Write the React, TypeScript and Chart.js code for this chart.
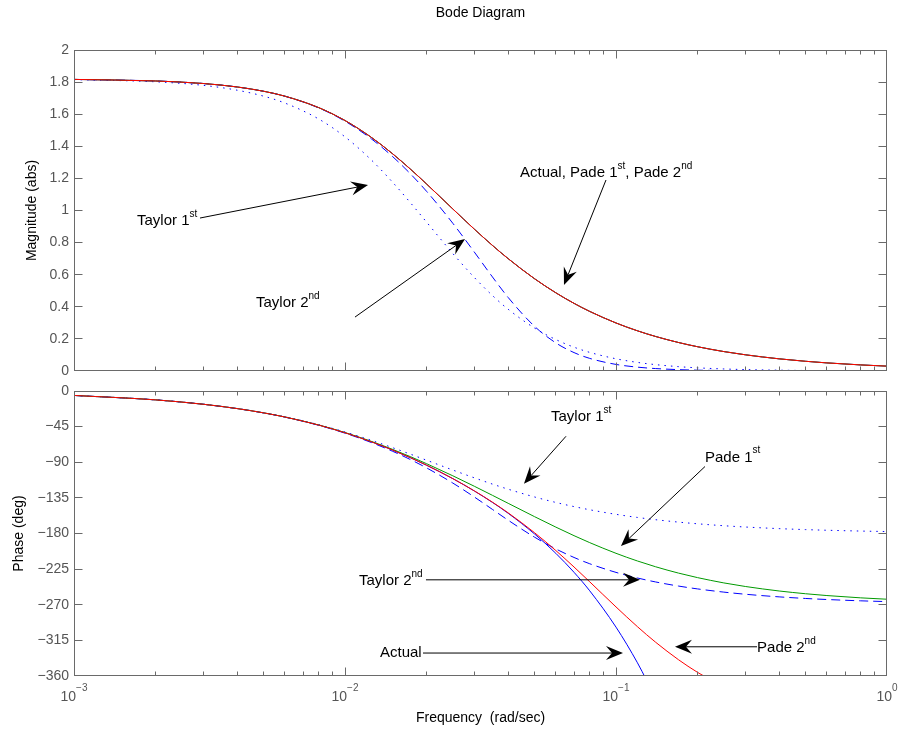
import { useEffect, useRef } from "react";
import { Chart, registerables } from "chart.js";

Chart.register(...registerables);

// Frequency grid (rad/sec)
const FREQ = [
  0.001, 0.002, 0.003, 0.004, 0.005, 0.006, 0.008, 0.01, 0.0125, 0.015, 0.0175, 0.02, 0.025, 0.03, 0.035, 0.04,
  0.05, 0.06, 0.07, 0.08, 0.1, 0.12, 0.14, 0.17, 0.2, 0.25, 0.3, 0.4, 0.5, 0.6, 0.8, 1.0,
];

// Magnitude (abs). Both Pade forms are all-pass, so they share the actual curve.
const MAG_ACTUAL = [
  1.8167, 1.807, 1.7912, 1.7697, 1.7432, 1.7124, 1.6408, 1.5606, 1.456, 1.3528, 1.2552, 1.1651, 1.0096, 0.8839, 0.7825, 0.7,
  0.5755, 0.4871, 0.4215, 0.3712, 0.2992, 0.2504, 0.2151, 0.1776, 0.1511, 0.1211, 0.101, 0.0758, 0.0606, 0.0505, 0.0379, 0.0303,
];
const MAG_TAYLOR1 = [
  1.8154, 1.8018, 1.7797, 1.7496, 1.7126, 1.6696, 1.5699, 1.4588, 1.3152, 1.1753, 1.0452, 0.9276, 0.7319, 0.5829, 0.4702, 0.3847,
  0.268, 0.1957, 0.1483, 0.116, 0.0761, 0.0536, 0.0397, 0.0272, 0.0197, 0.0127, 0.0088, 0.005, 0.0032, 0.0022, 0.0012, 0.0008,
];
const MAG_TAYLOR2 = [
  1.8167, 1.807, 1.7912, 1.7696, 1.7429, 1.7118, 1.639, 1.5565, 1.4468, 1.3353, 1.2256, 1.1194, 0.9202, 0.7412, 0.5861, 0.4581,
  0.2789, 0.1749, 0.1147, 0.0785, 0.041, 0.024, 0.0152, 0.0085, 0.0052, 0.0027, 0.0016, 0.0007, 0.0003, 0.0002, 0.0001, 0.0,
];

// Phase (deg); the shorter series run off the bottom of the axes.
const PHASE_ACTUAL = [
  -5.61, -11.2, -16.74, -22.21, -27.59, -32.86, -43.06, -52.74, -64.09, -74.65, -84.5, -93.74, -110.74, -126.26, -140.74, -154.47,
  -180.43, -205.11, -229.02, -252.41, -298.26, -343.36, -388.03,
];
const PHASE_TAYLOR1 = [
  -5.61, -11.19, -16.71, -22.14, -27.46, -32.64, -42.55, -51.77, -62.28, -71.67, -80.02, -87.43, -99.84, -109.69, -117.6, -124.04,
  -133.81, -140.79, -146.01, -150.02, -155.79, -159.72, -162.57, -165.6, -167.74, -170.18, -171.81, -173.85, -175.08, -175.9, -176.92, -177.54,
];
const PHASE_TAYLOR2 = [
  -5.61, -11.2, -16.75, -22.24, -27.65, -32.97, -43.32, -53.24, -65.03, -76.22, -86.89, -97.1, -116.3, -133.87, -149.57, -163.21,
  -184.53, -199.52, -210.26, -218.22, -229.12, -236.21, -241.19, -246.39, -249.99, -254.04, -256.72, -260.05, -262.05, -263.38, -265.04, -266.03,
];
const PHASE_PADE1 = [
  -5.61, -11.2, -16.73, -22.19, -27.55, -32.81, -42.93, -52.48, -63.59, -73.8, -83.18, -91.81, -107.13, -120.31, -131.79, -141.85,
  -158.63, -171.96, -182.73, -191.55, -205.02, -214.73, -222.01, -230.0, -235.75, -242.41, -246.92, -252.62, -256.07, -258.38, -261.28, -263.02,
];
const PHASE_PADE2 = [
  -5.61, -11.2, -16.74, -22.21, -27.59, -32.86, -43.06, -52.74, -64.08, -74.64, -84.49, -93.72, -110.68, -126.12, -140.44, -153.91,
  -178.86, -201.6, -222.31, -241.03, -272.75, -297.73, -317.32, -339.38, -355.44, -374.04,
];

// Axis ticks
const MAG_TICKS = [0, 0.2, 0.4, 0.6, 0.8, 1, 1.2, 1.4, 1.6, 1.8, 2];
const MAG_TICK_LABELS = ["0", "0.2", "0.4", "0.6", "0.8", "1", "1.2", "1.4", "1.6", "1.8", "2"];
const PHASE_TICKS = [-360, -315, -270, -225, -180, -135, -90, -45, 0];
const PHASE_TICK_LABELS = ["\u2212360", "\u2212315", "\u2212270", "\u2212225", "\u2212180", "\u2212135", "\u221290", "\u221245", "0"];
const FREQ_DECADES = [0.001, 0.01, 0.1, 1];
const FREQ_EXPONENTS = ["\u22123", "\u22122", "\u22121", "0"];

// Callouts: [text, superscript?] runs, label anchor, arrow tail and arrow tip, in data units
type Note = { parts: [string, boolean][]; at: [number, number]; from: [number, number]; to: [number, number] };

const MAG_NOTES: Note[] = [
  { parts: [["Taylor 1", false], ["st", true]], at: [0.001708, 0.935], from: [0.002917, 0.953], to: [0.01216, 1.159] },
  { parts: [["Taylor 2", false], ["nd", true]], at: [0.004694, 0.424], from: [0.010886, 0.336], to: [0.027728, 0.822] },
  {
    parts: [["Actual, Pade 1", false], ["st", true], [", Pade 2", false], ["nd", true]],
    at: [0.044227, 1.234],
    from: [0.091854, 1.19],
    to: [0.064279, 0.536],
  },
];

const PHASE_NOTES: Note[] = [
  { parts: [["Taylor 1", false], ["st", true]], at: [0.05756, -33.1], from: [0.06538, -57.2], to: [0.04575, -117.0] },
  { parts: [["Pade 1", false], ["st", true]], at: [0.213, -84.0], from: [0.213, -95.4], to: [0.1043, -195.9] },
  { parts: [["Taylor 2", false], ["nd", true]], at: [0.011265, -240.4], from: [0.019898, -238.5], to: [0.12264, -238.5] },
  { parts: [["Actual", false]], at: [0.013462, -330.7], from: [0.019403, -331.0], to: [0.10613, -331.0] },
  { parts: [["Pade 2", false], ["nd", true]], at: [0.33144, -324.4], from: [0.33144, -323.1], to: [0.16508, -323.1] },
];

const FONT = "'Liberation Sans', Arial, Helvetica, sans-serif";
const AXIS_GRAY = "#6a6a6a";
const LABEL_GRAY = "#555555";
const BLUE = "#0000ff";
const GREEN = "#009a00";
const RED = "#ff0000";
const W = 901;
const H = 729;

function points(values: number[]) {
  return values.map((y, i) => ({ x: FREQ[i], y }));
}

// `order` makes later curves paint over earlier ones (Chart.js paints higher order first).
function series(label: string, values: number[], color: string, order: number, dash: number[] = []) {
  return {
    label,
    data: points(values),
    borderColor: color,
    backgroundColor: color,
    borderWidth: 1,
    borderDash: dash,
    pointRadius: 0,
    fill: false,
    cubicInterpolationMode: "monotone" as const,
    clip: 0,
    order,
  };
}

const DOTTED = [1.5, 5];
const DASHED = [9, 5];

function drawArrow(ctx: CanvasRenderingContext2D, x1: number, y1: number, x2: number, y2: number) {
  const dx = x2 - x1;
  const dy = y2 - y1;
  const len = Math.hypot(dx, dy);
  const ux = dx / len;
  const uy = dy / len;
  const nx = -uy;
  const ny = ux;
  const L = 17;
  const HW = 7;
  const N = 11;
  ctx.beginPath();
  ctx.moveTo(x1, y1);
  ctx.lineTo(x2 - ux * N, y2 - uy * N);
  ctx.stroke();
  ctx.beginPath();
  ctx.moveTo(x2, y2);
  ctx.lineTo(x2 - ux * L + nx * HW, y2 - uy * L + ny * HW);
  ctx.lineTo(x2 - ux * N, y2 - uy * N);
  ctx.lineTo(x2 - ux * L - nx * HW, y2 - uy * L - ny * HW);
  ctx.closePath();
  ctx.fill();
}

function drawRich(ctx: CanvasRenderingContext2D, parts: [string, boolean][], x: number, y: number) {
  let cx = x;
  ctx.textAlign = "left";
  ctx.textBaseline = "middle";
  for (const [text, sup] of parts) {
    ctx.font = sup ? `10px ${FONT}` : `15px ${FONT}`;
    ctx.fillText(text, cx, sup ? y - 7 : y);
    cx += ctx.measureText(text).width;
  }
}

type FrameOpts = { notes: Note[]; yTitle: string; yTitleX: number; title?: string; freqLabels?: boolean };

function framePlugin(opts: FrameOpts) {
  return {
    id: "bodeFrame",
    afterDraw(chart: any) {
      const ctx: CanvasRenderingContext2D = chart.ctx;
      const a = chart.chartArea;
      const xs = chart.scales.x;
      const ys = chart.scales.y;
      const L = a.left + 0.5;
      const R = a.right - 0.5;
      const T = a.top + 0.5;
      const B = a.bottom - 0.5;
      const clampX = (v: number) => Math.min(R, Math.max(L, v));
      const clampY = (v: number) => Math.min(B, Math.max(T, v));
      ctx.save();

      // axes box with inward tick marks
      ctx.strokeStyle = AXIS_GRAY;
      ctx.lineWidth = 1;
      ctx.setLineDash([]);
      ctx.strokeRect(L, T, R - L, B - T);
      ctx.beginPath();
      for (const base of FREQ_DECADES) {
        for (let k = 1; k <= 9; k++) {
          const v = base * k;
          if (v > xs.max * 1.0001) break;
          const px = clampX(Math.floor(xs.getPixelForValue(v)) + 0.5);
          const len = k === 1 ? 8 : 4;
          ctx.moveTo(px, B);
          ctx.lineTo(px, B - len);
          ctx.moveTo(px, T);
          ctx.lineTo(px, T + len);
        }
      }
      for (const t of ys.ticks) {
        const py = clampY(Math.floor(ys.getPixelForValue(t.value)) + 0.5);
        ctx.moveTo(L, py);
        ctx.lineTo(L + 8, py);
        ctx.moveTo(R, py);
        ctx.lineTo(R - 8, py);
      }
      ctx.stroke();

      // frequency decade labels 10^n
      if (opts.freqLabels) {
        ctx.fillStyle = LABEL_GRAY;
        ctx.textBaseline = "middle";
        ctx.textAlign = "left";
        FREQ_DECADES.forEach((v, i) => {
          const px = xs.getPixelForValue(v);
          ctx.font = `14px ${FONT}`;
          const w10 = ctx.measureText("10").width;
          ctx.font = `10px ${FONT}`;
          const we = ctx.measureText(FREQ_EXPONENTS[i]).width;
          const start = px - (w10 + we) / 2;
          ctx.font = `14px ${FONT}`;
          ctx.fillText("10", start, a.bottom + 21);
          ctx.font = `10px ${FONT}`;
          ctx.fillText(FREQ_EXPONENTS[i], start + w10, a.bottom + 12);
        });
        ctx.fillStyle = "#000";
        ctx.font = `14px ${FONT}`;
        ctx.textAlign = "center";
        ctx.fillText("Frequency  (rad/sec)", (a.left + a.right) / 2, a.bottom + 42);
      }

      // title
      if (opts.title) {
        ctx.fillStyle = "#000";
        ctx.font = `14px ${FONT}`;
        ctx.textAlign = "center";
        ctx.textBaseline = "middle";
        ctx.fillText(opts.title, (a.left + a.right) / 2, 13);
      }

      // y-axis title
      ctx.save();
      ctx.fillStyle = "#000";
      ctx.font = `14px ${FONT}`;
      ctx.textAlign = "center";
      ctx.textBaseline = "middle";
      ctx.translate(opts.yTitleX, (a.top + a.bottom) / 2);
      ctx.rotate(-Math.PI / 2);
      ctx.fillText(opts.yTitle, 0, 0);
      ctx.restore();

      // callouts
      ctx.strokeStyle = "#000";
      ctx.fillStyle = "#000";
      ctx.lineWidth = 1;
      for (const n of opts.notes) {
        drawArrow(
          ctx,
          xs.getPixelForValue(n.from[0]),
          ys.getPixelForValue(n.from[1]),
          xs.getPixelForValue(n.to[0]),
          ys.getPixelForValue(n.to[1])
        );
        drawRich(ctx, n.parts, xs.getPixelForValue(n.at[0]), ys.getPixelForValue(n.at[1]));
      }
      ctx.restore();
    },
  };
}

function baseOptions(
  padTop: number,
  padBottom: number,
  yMin: number,
  yMax: number,
  ticks: number[],
  labels: string[]
): any {
  return {
    responsive: false,
    maintainAspectRatio: false,
    devicePixelRatio: 1,
    animation: false,
    events: [],
    layout: { padding: { left: 0, right: 14, top: padTop, bottom: padBottom } },
    elements: { line: { capBezierPoints: false } },
    plugins: { legend: { display: false }, tooltip: { enabled: false }, title: { display: false } },
    scales: {
      x: { type: "logarithmic", min: 0.001, max: 1, display: false },
      y: {
        type: "linear",
        position: "left",
        min: yMin,
        max: yMax,
        grid: { display: false, drawTicks: false },
        border: { display: false },
        ticks: {
          color: LABEL_GRAY,
          font: { family: FONT, size: 14 },
          padding: 5,
          autoSkip: false,
          callback: (_v: number, i: number) => labels[i],
        },
        afterBuildTicks: (s: any) => {
          s.ticks = ticks.map((value) => ({ value }));
        },
        afterFit: (s: any) => {
          s.width = 74;
        },
      },
    },
  };
}

export default function App() {
  const magRef = useRef<HTMLCanvasElement>(null);
  const phaseRef = useRef<HTMLCanvasElement>(null);

  useEffect(() => {
    Chart.defaults.font.family = FONT;
    const phase = new Chart(phaseRef.current as HTMLCanvasElement, {
      type: "line",
      data: {
        datasets: [
          series("Actual", PHASE_ACTUAL, BLUE, 5),
          series("Taylor 1st", PHASE_TAYLOR1, BLUE, 4, DOTTED),
          series("Taylor 2nd", PHASE_TAYLOR2, BLUE, 3, DASHED),
          series("Pade 1st", PHASE_PADE1, GREEN, 2),
          series("Pade 2nd", PHASE_PADE2, RED, 1),
        ] as any,
      },
      options: baseOptions(391, H - 676, -360, 0, PHASE_TICKS, PHASE_TICK_LABELS),
      plugins: [framePlugin({ notes: PHASE_NOTES, yTitle: "Phase (deg)", yTitleX: 19, freqLabels: true })],
    } as any);
    const mag = new Chart(magRef.current as HTMLCanvasElement, {
      type: "line",
      data: {
        datasets: [
          series("Actual", MAG_ACTUAL, BLUE, 5),
          series("Taylor 1st", MAG_TAYLOR1, BLUE, 4, DOTTED),
          series("Taylor 2nd", MAG_TAYLOR2, BLUE, 3, DASHED),
          series("Pade 1st", MAG_ACTUAL, GREEN, 2),
          series("Pade 2nd", MAG_ACTUAL, RED, 1),
        ] as any,
      },
      options: baseOptions(50, H - 371, 0, 2, MAG_TICKS, MAG_TICK_LABELS),
      plugins: [framePlugin({ notes: MAG_NOTES, yTitle: "Magnitude (abs)", yTitleX: 32, title: "Bode Diagram" })],
    } as any);
    return () => {
      mag.destroy();
      phase.destroy();
    };
  }, []);

  const canvasStyle = { position: "absolute" as const, left: 0, top: 0, width: W, height: H, display: "block" };
  return (
    <div style={{ position: "fixed", left: 0, top: 0, width: W, height: H, background: "#fff" }}>
      <canvas ref={phaseRef} width={W} height={H} style={canvasStyle} />
      <canvas ref={magRef} width={W} height={H} style={canvasStyle} />
    </div>
  );
}
